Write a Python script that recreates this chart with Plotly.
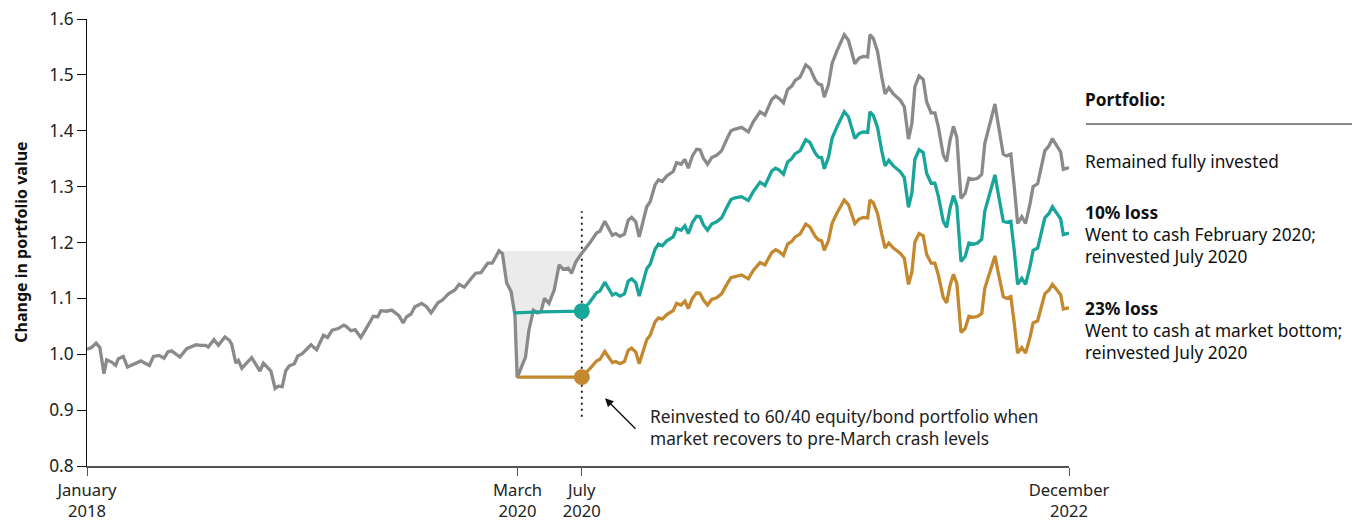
import numpy as np
import pandas as pd
import plotly.graph_objects as go

START = pd.Timestamp("2018-01-05")

# ---- data (weeks since first week of January 2018, portfolio value) ----
pre_weeks = [0.0, 1.2, 2.4, 3.4, 4.5, 5.2, 6.5, 7.6, 8.3, 9.6, 10.7, 12.3, 14.3, 15.4, 16.5, 17.6,
             19.1, 20.4, 21.4, 22.4, 24.6, 26.4, 27.7, 28.9, 30.2, 31.4, 32.1, 33.6, 34.8, 36.5,
             37.7, 38.3, 39.4, 40.1, 41.0, 43.6, 45.8, 46.7, 48.7, 49.8, 50.6, 51.7, 52.6, 53.5,
             54.9, 55.8, 57.0, 58.2, 59.3, 60.8, 62.6, 63.7, 64.9, 66.5, 68.0, 68.6, 69.9, 71.0,
             72.5, 73.4, 74.5, 75.8, 77.0, 77.8, 79.3, 80.7, 82.6, 83.7, 84.6, 85.8, 86.8, 88.6,
             89.9, 91.1, 92.9, 94.1, 95.7, 97.4, 98.5, 99.9, 101.4, 102.9, 104.3, 106.1, 107.3,
             109.1, 110.0, 111.1, 112.3, 113.3, 113.9, 115.1, 116.1, 117.0, 118.2, 119.3, 120.2,
             121.1, 122.3, 123.7, 125.0, 126.1, 127.4, 128.3, 129.4]
pre_gray = [1.009, 1.012, 1.020, 1.012, 0.965, 0.990, 0.986, 0.980, 0.992, 0.996, 0.977, 0.982,
            0.988, 0.984, 0.980, 0.996, 0.998, 0.993, 1.004, 1.006, 0.995, 1.010, 1.013, 1.017,
            1.016, 1.016, 1.013, 1.026, 1.016, 1.031, 1.025, 1.018, 0.984, 0.989, 0.975, 0.994,
            0.970, 0.984, 0.970, 0.939, 0.943, 0.942, 0.970, 0.979, 0.983, 0.997, 1.001, 1.010,
            1.017, 1.008, 1.034, 1.030, 1.043, 1.046, 1.052, 1.050, 1.042, 1.044, 1.030, 1.040,
            1.052, 1.068, 1.067, 1.078, 1.077, 1.079, 1.069, 1.056, 1.067, 1.072, 1.085, 1.091,
            1.085, 1.074, 1.092, 1.097, 1.108, 1.115, 1.125, 1.120, 1.133, 1.145, 1.146, 1.163,
            1.163, 1.185, 1.180, 1.128, 1.112, 1.070, 0.958, 0.977, 0.995, 1.043, 1.079, 1.074,
            1.076, 1.100, 1.091, 1.115, 1.160, 1.152, 1.154, 1.145, 1.165]

post_weeks = [131.0, 133.1, 134.9, 135.8, 137.1, 138.0, 139.1, 140.0, 141.1, 142.3, 143.3, 144.2,
              145.3, 146.2, 147.3, 148.2, 149.1, 150.4, 151.3, 152.3, 153.5, 155.2, 156.1, 157.3,
              158.3, 159.2, 160.3, 161.4, 162.3, 163.2, 164.3, 165.4, 166.7, 168.0, 169.4, 170.5,
              171.6, 173.3, 175.1, 176.4, 178.2, 179.5, 181.3, 182.3, 183.2, 184.4, 185.5, 186.6,
              187.5, 188.8, 190.3, 191.4, 192.8, 193.6, 194.5, 195.2, 196.3, 197.3, 198.5, 199.6,
              200.5, 201.6, 202.5, 203.3, 204.4, 205.5, 206.7, 207.3, 208.2, 209.3, 210.4, 211.3,
              212.3, 213.5, 215.3, 216.4, 217.5, 218.4, 219.2, 220.3, 221.4, 222.3, 223.5, 224.5,
              225.4, 226.7, 227.6, 228.5, 229.4, 230.3, 231.4, 232.5, 233.5, 234.7, 235.8, 236.9,
              237.7, 238.6, 239.5, 240.4, 241.3, 242.6, 243.5, 244.6, 245.5, 246.4, 247.5, 248.5,
              249.7, 250.5, 251.7, 252.9, 253.6, 254.7, 255.6, 256.7, 257.8, 258.5, 260.0]
post_gray = [1.181, 1.199, 1.217, 1.220, 1.238, 1.227, 1.213, 1.216, 1.211, 1.215, 1.240, 1.245,
             1.237, 1.210, 1.243, 1.264, 1.273, 1.303, 1.312, 1.309, 1.319, 1.327, 1.343, 1.340,
             1.349, 1.333, 1.355, 1.367, 1.366, 1.351, 1.340, 1.352, 1.356, 1.364, 1.385, 1.400,
             1.403, 1.406, 1.398, 1.416, 1.434, 1.428, 1.456, 1.462, 1.458, 1.450, 1.474, 1.480,
             1.490, 1.496, 1.518, 1.512, 1.491, 1.484, 1.482, 1.460, 1.482, 1.521, 1.542, 1.560,
             1.572, 1.562, 1.542, 1.520, 1.530, 1.533, 1.532, 1.572, 1.565, 1.542, 1.497, 1.466,
             1.477, 1.466, 1.455, 1.443, 1.385, 1.413, 1.479, 1.498, 1.492, 1.452, 1.432, 1.432,
             1.407, 1.357, 1.345, 1.383, 1.408, 1.388, 1.279, 1.288, 1.315, 1.313, 1.315, 1.322,
             1.377, 1.401, 1.425, 1.448, 1.410, 1.358, 1.355, 1.358, 1.300, 1.234, 1.246, 1.234,
             1.270, 1.300, 1.305, 1.342, 1.364, 1.373, 1.386, 1.374, 1.362, 1.331, 1.334]
post_teal = [1.077, 1.093, 1.110, 1.113, 1.129, 1.119, 1.106, 1.109, 1.104, 1.108, 1.131, 1.135,
             1.128, 1.104, 1.134, 1.153, 1.161, 1.188, 1.197, 1.194, 1.203, 1.210, 1.225, 1.222,
             1.230, 1.216, 1.236, 1.247, 1.246, 1.232, 1.222, 1.233, 1.237, 1.244, 1.263, 1.277,
             1.280, 1.282, 1.275, 1.291, 1.308, 1.302, 1.328, 1.333, 1.330, 1.322, 1.344, 1.350,
             1.359, 1.364, 1.384, 1.379, 1.360, 1.353, 1.352, 1.332, 1.352, 1.387, 1.406, 1.423,
             1.434, 1.425, 1.406, 1.386, 1.395, 1.398, 1.397, 1.434, 1.427, 1.406, 1.365, 1.337,
             1.347, 1.337, 1.327, 1.316, 1.263, 1.289, 1.349, 1.366, 1.361, 1.324, 1.306, 1.306,
             1.283, 1.238, 1.227, 1.261, 1.284, 1.266, 1.166, 1.175, 1.199, 1.197, 1.199, 1.206,
             1.256, 1.278, 1.300, 1.321, 1.286, 1.238, 1.236, 1.238, 1.186, 1.125, 1.136, 1.125,
             1.158, 1.186, 1.190, 1.224, 1.244, 1.252, 1.264, 1.253, 1.242, 1.214, 1.217]
post_orange = [0.959, 0.974, 0.988, 0.991, 1.005, 0.996, 0.985, 0.987, 0.983, 0.987, 1.007, 1.011,
               1.004, 0.983, 1.009, 1.026, 1.034, 1.058, 1.065, 1.063, 1.071, 1.078, 1.091, 1.088,
               1.095, 1.082, 1.100, 1.110, 1.109, 1.097, 1.088, 1.098, 1.101, 1.108, 1.125, 1.137,
               1.139, 1.142, 1.135, 1.150, 1.164, 1.160, 1.182, 1.187, 1.184, 1.177, 1.197, 1.202,
               1.210, 1.215, 1.233, 1.228, 1.211, 1.205, 1.203, 1.186, 1.203, 1.235, 1.252, 1.267,
               1.276, 1.268, 1.252, 1.234, 1.242, 1.245, 1.244, 1.276, 1.271, 1.252, 1.216, 1.190,
               1.199, 1.190, 1.181, 1.172, 1.125, 1.147, 1.201, 1.216, 1.212, 1.179, 1.163, 1.163,
               1.142, 1.102, 1.092, 1.123, 1.143, 1.127, 1.039, 1.046, 1.068, 1.066, 1.068, 1.073,
               1.118, 1.138, 1.157, 1.176, 1.145, 1.103, 1.100, 1.103, 1.056, 1.002, 1.012, 1.002,
               1.031, 1.056, 1.060, 1.090, 1.108, 1.115, 1.125, 1.116, 1.106, 1.081, 1.083]

# cash periods (flat lines) before reinvesting in July 2020
teal_cash_weeks = [113.0, 120.2]
teal_cash_values = [1.074, 1.076]
orange_cash_weeks = [113.9]
orange_cash_values = [0.959]

peak_week = 109.1
peak_value = 1.185
reinvest_week = 131.0
dotted_range = [0.888, 1.256]

tick_dates = ["2018-01-05", "2020-03-13", "2020-07-10", "2022-12-30"]
tick_text = ["January<br>2018", "March<br>2020", "July<br>2020", "December<br>2022"]
y_ticks = [0.8, 0.9, 1.0, 1.1, 1.2, 1.3, 1.4, 1.5, 1.6]

GRAY = "#8a8a8a"
TEAL = "#1aa59a"
ORANGE = "#c4882f"
FONT = "Noto Sans"
TXT = 17.3


def to_dates(weeks):
    return START + pd.to_timedelta(np.array(weeks, dtype=float) * 7, unit="D")


gray_weeks = pre_weeks + post_weeks
gray_values = pre_gray + post_gray
teal_weeks = teal_cash_weeks + post_weeks
teal_values = teal_cash_values + post_teal
orange_weeks = orange_cash_weeks + post_weeks
orange_values = orange_cash_values + post_orange

fig = go.Figure()

# shaded drawdown area
gw = np.array(gray_weeks)
gv = np.array(gray_values)
mask = (gw >= peak_week) & (gw <= reinvest_week)
fig.add_trace(go.Scatter(x=to_dates([peak_week, reinvest_week]), y=[peak_value, peak_value],
                         mode="lines", line=dict(width=0, color="rgba(0,0,0,0)"),
                         hoverinfo="skip", showlegend=False))
fig.add_trace(go.Scatter(x=to_dates(gw[mask]), y=gv[mask], mode="lines",
                         line=dict(width=0, color="rgba(0,0,0,0)"), fill="tonexty",
                         fillcolor="#ebebeb", hoverinfo="skip", showlegend=False))

fig.add_trace(go.Scatter(x=to_dates(gray_weeks), y=gray_values, mode="lines",
                         line=dict(color=GRAY, width=3.3), name="Remained fully invested",
                         showlegend=False))
fig.add_trace(go.Scatter(x=to_dates(teal_weeks), y=teal_values, mode="lines",
                         line=dict(color=TEAL, width=3.3), name="10% loss", showlegend=False))
fig.add_trace(go.Scatter(x=to_dates(orange_weeks), y=orange_values, mode="lines",
                         line=dict(color=ORANGE, width=3.3), name="23% loss", showlegend=False))

# reinvestment dots
fig.add_trace(go.Scatter(x=to_dates([reinvest_week]), y=[post_teal[0]], mode="markers",
                         marker=dict(color=TEAL, size=16), showlegend=False, hoverinfo="skip"))
fig.add_trace(go.Scatter(x=to_dates([reinvest_week]), y=[post_orange[0]], mode="markers",
                         marker=dict(color=ORANGE, size=16), showlegend=False, hoverinfo="skip"))

# dotted vertical line at reinvestment
rd = to_dates([reinvest_week])[0]
fig.add_shape(type="line", x0=rd, x1=rd, y0=dotted_range[0], y1=dotted_range[1],
              xref="x", yref="y", line=dict(color="#111111", width=1.8, dash="2px,4px"),
              layer="below")

# page body has an 8px margin: figure is sized/offset to compensate
fig.update_layout(
    width=1355, height=513,
    margin=dict(l=79, r=294, t=11, b=55.3, autoexpand=False),
    paper_bgcolor="white", plot_bgcolor="white",
    font=dict(family=FONT, size=TXT, color="#222222"),
    showlegend=False,
)
fig.update_xaxes(
    type="date", automargin=False, ticklabeloverflow="allow",
    range=[to_dates([0])[0], to_dates([260])[0]],
    tickmode="array", tickvals=tick_dates, ticktext=tick_text,
    ticks="outside", ticklen=8, tickcolor="#555555", tickwidth=1,
    showline=True, linecolor="#555555", linewidth=1.5,
    showgrid=False, zeroline=False,
    tickfont=dict(size=16.6, color="#222222"),
)
fig.update_yaxes(
    automargin=False, ticklabeloverflow="allow",
    range=[0.8, 1.6], tickmode="array", tickvals=y_ticks,
    ticktext=[f"{v:.1f}" for v in y_ticks],
    ticks="outside", ticklen=9, tickcolor="#111111", tickwidth=1,
    showline=True, linecolor="#111111", linewidth=1,
    showgrid=False, zeroline=False,
    tickfont=dict(size=TXT, color="#222222"),
)

# y-axis title
fig.add_annotation(text="<b>Change in portfolio value</b>", xref="paper", yref="paper",
                   x=-0.068, y=0.5, textangle=-90, showarrow=False,
                   font=dict(size=16, color="#111111"), xanchor="center", yanchor="middle")

# reinvest note and arrow
fig.add_annotation(text="Reinvested to 60/40 equity/bond portfolio when<br>market recovers to pre-March crash levels",
                   xref="paper", yref="paper", x=0.5713, y=0.0856, xanchor="left", yanchor="middle",
                   align="left", showarrow=False, font=dict(size=TXT, color="#222222"))
fig.add_annotation(text="", xref="paper", yref="paper", x=0.5275, y=0.1516,
                   ax=32, ay=32, axref="pixel", ayref="pixel", showarrow=True,
                   arrowhead=2, arrowsize=1.2, arrowwidth=1.4, arrowcolor="#111111")

# right-hand legend text
LX = 1.0143
legend_items = [
    ("<b>Portfolio:</b>", 0.821),
    ("Remained fully invested", 0.682),
    ("<b>10% loss</b>", 0.568),
    ("Went to cash February 2020;", 0.519),
    ("reinvested July 2020", 0.469),
    ("<b>23% loss</b>", 0.353),
    ("Went to cash at market bottom;", 0.304),
    ("reinvested July 2020", 0.255),
]
for txt, yy in legend_items:
    fig.add_annotation(text=txt, xref="paper", yref="paper", x=LX, y=yy,
                       xanchor="left", yanchor="middle", showarrow=False,
                       font=dict(size=TXT, color="#111111"))
fig.add_shape(type="line", xref="paper", yref="paper", x0=1.0173, x1=1.2882, y0=0.765, y1=0.765,
              line=dict(color="#111111", width=1))

fig.write_html("out.html")
